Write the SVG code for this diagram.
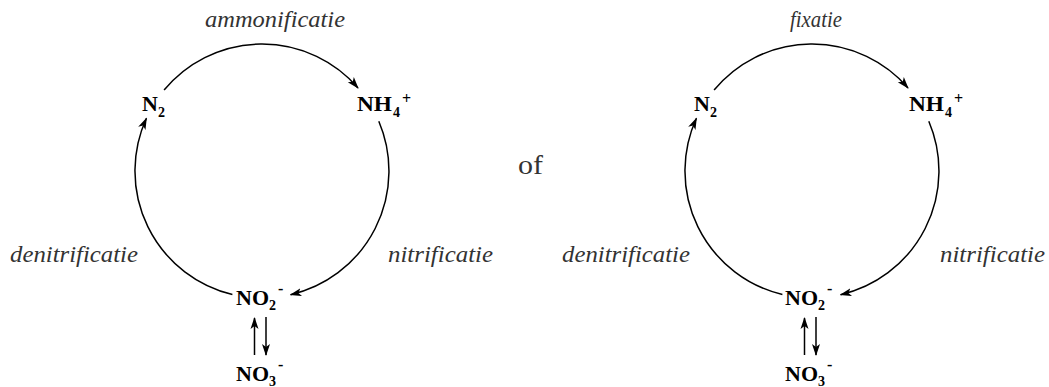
<svg xmlns="http://www.w3.org/2000/svg" width="1049" height="387" viewBox="0 0 1049 387">
<style>
text{font-family:'Liberation Serif','Times New Roman',serif}
.lbl{font-style:italic;font-size:23px;fill:#333}
.chem{font-weight:bold;font-size:22px;fill:#000}
.sub{font-size:14px}
.sup{font-size:16px}
.arc{fill:none;stroke:#000;stroke-width:1.5}
</style>
<defs>
<marker id="ah" markerUnits="userSpaceOnUse" markerWidth="12" markerHeight="10" viewBox="0 0 12 10" refX="11" refY="5" orient="auto">
<path d="M0,1 L12,5 L0,9 L3,5 Z" fill="#000"/>
</marker>
</defs>
<rect width="1049" height="387" fill="#fff"/>
<g id="connectors">
<g id="conn-left">
<path class="arc" d="M164.1,90.1 A127,127 0 0 1 358,87.9" marker-end="url(#ah)"/>
<path class="arc" d="M378.8,121.2 A127,127 0 0 1 290.6,294.7" marker-end="url(#ah)"/>
<path class="arc" d="M232.4,294.5 A127,127 0 0 1 146.4,118.3" marker-end="url(#ah)"/>
<path class="arc" d="M254.5,355 L254.5,318" marker-end="url(#ah)"/>
<path class="arc" d="M266,317 L266,355" marker-end="url(#ah)"/>
</g>
<g id="conn-right" transform="translate(550,0)">
<path class="arc" d="M164.1,90.1 A127,127 0 0 1 358,87.9" marker-end="url(#ah)"/>
<path class="arc" d="M378.8,121.2 A127,127 0 0 1 290.6,294.7" marker-end="url(#ah)"/>
<path class="arc" d="M232.4,294.5 A127,127 0 0 1 146.4,118.3" marker-end="url(#ah)"/>
<path class="arc" d="M254.5,355 L254.5,318" marker-end="url(#ah)"/>
<path class="arc" d="M266,317 L266,355" marker-end="url(#ah)"/>
</g>
</g>
<g id="left-N2"><text class="chem" x="142" y="111">N</text><text class="chem sub" x="158" y="117">2</text></g>
<g id="left-NH4"><text class="chem" x="357" y="111" textLength="35" lengthAdjust="spacingAndGlyphs">NH</text><text class="chem sub" x="393" y="117">4</text><text class="chem sup" x="402" y="104">+</text></g>
<g id="left-NO2"><text class="chem" x="236" y="305">NO</text><text class="chem sub" x="269" y="310">2</text><text class="chem sup" x="278" y="294">-</text></g>
<g id="left-NO3"><text class="chem" x="236" y="381">NO</text><text class="chem sub" x="269" y="386">3</text><text class="chem sup" x="278" y="370">-</text></g>
<g id="left-labels">
<text class="lbl" x="205" y="27" textLength="140" lengthAdjust="spacingAndGlyphs">ammonificatie</text>
<text class="lbl" x="10" y="262" textLength="128" lengthAdjust="spacingAndGlyphs">denitrificatie</text>
<text class="lbl" x="388" y="262" textLength="105" lengthAdjust="spacingAndGlyphs">nitrificatie</text>
</g>
<g id="of"><text x="518" y="174" font-size="27" fill="#333" textLength="25" lengthAdjust="spacingAndGlyphs">of</text></g>
<g id="right-N2"><text class="chem" x="694" y="111">N</text><text class="chem sub" x="710" y="117">2</text></g>
<g id="right-NH4"><text class="chem" x="909" y="111" textLength="35" lengthAdjust="spacingAndGlyphs">NH</text><text class="chem sub" x="945" y="117">4</text><text class="chem sup" x="954" y="104">+</text></g>
<g id="right-NO2"><text class="chem" x="785" y="305">NO</text><text class="chem sub" x="818" y="310">2</text><text class="chem sup" x="827" y="294">-</text></g>
<g id="right-NO3"><text class="chem" x="785" y="381">NO</text><text class="chem sub" x="818" y="386">3</text><text class="chem sup" x="827" y="370">-</text></g>
<g id="right-labels">
<text class="lbl" x="790" y="27" textLength="52" lengthAdjust="spacingAndGlyphs">fixatie</text>
<text class="lbl" x="562" y="262" textLength="128" lengthAdjust="spacingAndGlyphs">denitrificatie</text>
<text class="lbl" x="940" y="262" textLength="105" lengthAdjust="spacingAndGlyphs">nitrificatie</text>
</g>
</svg>
